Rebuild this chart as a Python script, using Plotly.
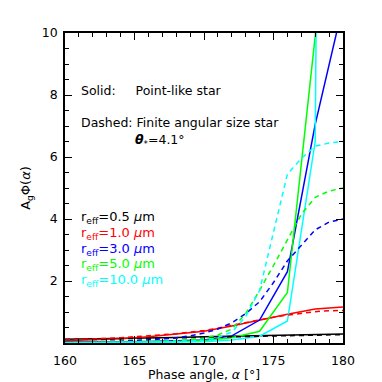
import plotly.graph_objects as go

# Solid: point-like star (2 deg sampling)
x_solid = [160, 162, 164, 166, 168, 170, 172, 174, 176, 178, 180]
solid_r05 = [0.12, 0.13, 0.14, 0.16, 0.18, 0.20, 0.22, 0.24, 0.26, 0.28, 0.29]
solid_r10 = [0.07, 0.10, 0.14, 0.20, 0.28, 0.38, 0.55, 0.75, 0.93, 1.10, 1.16]
solid_r30 = [0.03, 0.03, 0.04, 0.05, 0.07, 0.10, 0.23, 0.74, 2.30, 7.05, 10.9]
solid_r50 = [0.02, 0.02, 0.03, 0.04, 0.05, 0.08, 0.17, 0.38, 1.63, 9.9, 20.0]
solid_r100 = [0.01, 0.01, 0.02, 0.02, 0.03, 0.04, 0.10, 0.22, 0.71, 6.5, 120.0]

# Dashed: finite angular size star (1 deg sampling)
x_dash = list(range(160, 181))
dash_r05 = [0.11, 0.115, 0.12, 0.125, 0.13, 0.14, 0.145, 0.15, 0.16, 0.17, 0.18,
            0.19, 0.20, 0.21, 0.22, 0.23, 0.24, 0.25, 0.26, 0.27, 0.27]
dash_r10 = [0.10, 0.11, 0.13, 0.15, 0.17, 0.20, 0.23, 0.26, 0.30, 0.35, 0.40,
            0.48, 0.57, 0.66, 0.75, 0.83, 0.90, 0.96, 1.01, 1.04, 1.05]
dash_r30 = [0.03, 0.035, 0.04, 0.05, 0.06, 0.08, 0.10, 0.13, 0.17, 0.23, 0.32,
            0.45, 0.65, 0.95, 1.33, 1.95, 2.65, 3.15, 3.65, 3.90, 4.00]
dash_r50 = [0.02, 0.02, 0.025, 0.03, 0.035, 0.04, 0.05, 0.06, 0.08, 0.11, 0.16,
            0.26, 0.45, 0.95, 1.70, 2.50, 3.35, 4.15, 4.70, 4.90, 5.00]
dash_r100 = [0.01, 0.01, 0.015, 0.02, 0.02, 0.025, 0.03, 0.04, 0.05, 0.07, 0.10,
             0.18, 0.35, 0.85, 1.70, 3.60, 5.45, 5.95, 6.35, 6.45, 6.50]

labels = ["0.5", "1.0", "3.0", "5.0", "10.0"]
colors = ["#000000", "#ff0000", "#0000ff", "#00ff00", "#00ffff"]
solids = [solid_r05, solid_r10, solid_r30, solid_r50, solid_r100]
dashes = [dash_r05, dash_r10, dash_r30, dash_r50, dash_r100]

x_ticks = [160, 165, 170, 175, 180]
y_ticks = [2, 4, 6, 8, 10]

fig = go.Figure()
for c, ys in zip(colors, solids):
    fig.add_trace(go.Scatter(x=x_solid, y=ys, mode="lines",
                             line=dict(color=c, width=1.5), showlegend=False))
for c, ys in zip(colors, dashes):
    fig.add_trace(go.Scatter(x=x_dash, y=ys, mode="lines",
                             line=dict(color=c, width=1.5, dash="5px,4px"),
                             showlegend=False))

font = "DejaVu Sans, Verdana, sans-serif"
nb = "\u00a0"
ann = []
ann.append(dict(x=0.05, y=0.816, xref="paper", yref="paper", xanchor="left", yanchor="middle",
                text="Solid:" + nb * 5 + "Point-like star", showarrow=False,
                font=dict(size=12.5, color="black", family=font)))
ann.append(dict(x=0.05, y=0.71, xref="paper", yref="paper", xanchor="left", yanchor="middle",
                text="Dashed: Finite angular size star", showarrow=False,
                font=dict(size=12.5, color="black", family=font)))
ann.append(dict(x=0.245, y=0.652, xref="paper", yref="paper", xanchor="left", yanchor="middle",
                text="<b><i>θ</i></b><sub>*</sub>=4.1°", showarrow=False,
                font=dict(size=12.5, color="black", family=font)))
leg_y = [0.405, 0.353, 0.303, 0.253, 0.203]
for lab, c, yy in zip(labels, colors, leg_y):
    ann.append(dict(x=0.05, y=yy, xref="paper", yref="paper", xanchor="left", yanchor="middle",
                    text="r<sub>eff</sub>=" + lab + " <i>μ</i>m", showarrow=False,
                    font=dict(size=13, color=c, family=font)))

axis_common = dict(showgrid=False, zeroline=False, showline=True, linecolor="black",
                   linewidth=1.5, ticks="inside", ticklen=7, tickwidth=1, tickcolor="black",
                   mirror="allticks", automargin=False,
                   tickfont=dict(size=12.5, color="black", family=font))

fig.update_layout(
    width=374, height=374,
    margin=dict(l=57, r=39, t=25, b=39),
    paper_bgcolor="white", plot_bgcolor="white",
    annotations=ann,
    xaxis=dict(range=[160, 180], tickvals=x_ticks, ticktext=[str(v) for v in x_ticks],
               minor=dict(dtick=1, ticklen=4, ticks="inside", tickcolor="black"),
               ticklabelstandoff=5,
               title=dict(text="Phase angle, <i>α</i> [°]", standoff=2,
                          font=dict(size=12.5, color="black", family=font)),
               **axis_common),
    yaxis=dict(range=[0, 10], tickvals=y_ticks, ticktext=[str(v) for v in y_ticks],
               minor=dict(dtick=0.5, ticklen=4, ticks="inside", tickcolor="black"),
               ticklabelstandoff=3,
               title=dict(text="A<sub>g</sub>Φ(<i>α</i>)", standoff=8,
                          font=dict(size=13, color="black", family=font)),
               **axis_common),
)

fig.write_html("out.html")
